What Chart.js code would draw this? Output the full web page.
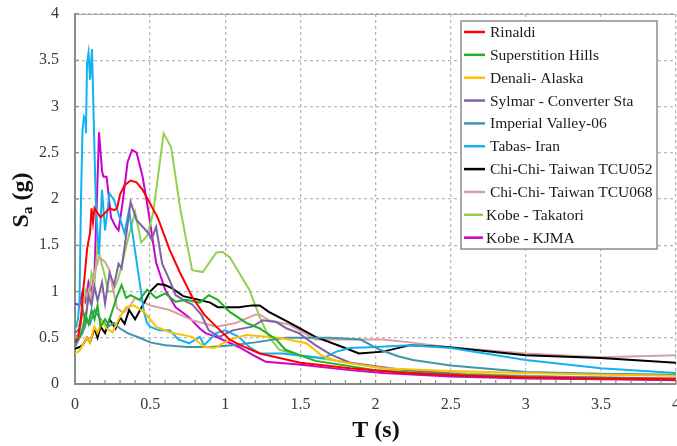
<!DOCTYPE html>
<html><head><meta charset="utf-8">
<script src="https://cdn.jsdelivr.net/npm/chart.js@4.4.1/dist/chart.umd.min.js"></script>
<style>html,body{margin:0;padding:0;background:#fff;overflow:hidden}canvas{display:block}</style>
</head><body>
<canvas id="c" width="677" height="446"></canvas>
<script>
// ---------- data ----------
const seriesNames = ["Rinaldi","Superstition Hills","Denali- Alaska","Sylmar - Converter Sta","Imperial Valley-06","Tabas- Iran","Chi-Chi- Taiwan TCU052","Chi-Chi- Taiwan TCU068","Kobe - Takatori","Kobe - KJMA"];

const rinaldiT  = [0,.02,.04,.05,.06,.07,.08,.09,.1,.11,.12,.13,.15,.17,.2,.23,.26,.28,.3,.33,.37,.41,.45,.5,.55,.63,.7,.78,.86,.94,1.03,1.1,1.23,1.5,1.83,2.2,2.6,3,3.5,4];
const rinaldiSa = [.45,.5,.7,.94,1.1,1.27,1.45,1.55,1.63,1.9,1.75,1.9,1.85,1.8,1.85,1.9,1.88,1.9,2.05,2.15,2.2,2.18,2.1,1.95,1.8,1.45,1.2,.94,.75,.62,.48,.42,.33,.23,.17,.12,.09,.07,.06,.05];

const superT  = [0,.03,.05,.07,.09,.11,.13,.15,.17,.2,.22,.25,.28,.31,.34,.37,.43,.48,.54,.6,.67,.74,.83,.89,.95,1.03,1.14,1.23,1.34,1.4,1.6,2,2.5,3,3.5,4];
const superSa = [.45,.5,.6,.75,.65,.8,.7,.85,.62,.7,.65,.8,.95,1.07,.93,.96,.91,1.02,.93,.98,.89,.91,.88,.96,.91,.78,.66,.6,.48,.37,.25,.15,.1,.07,.06,.05];

const denaliT  = [0,.03,.05,.08,.1,.13,.15,.18,.21,.25,.29,.34,.39,.46,.54,.63,.78,.86,.93,1.03,1.14,1.36,1.54,1.64,1.76,2.05,2.5,3,3.5,4];
const denaliSa = [.33,.36,.42,.5,.45,.62,.55,.68,.6,.56,.7,.83,.85,.78,.62,.56,.51,.4,.39,.48,.53,.5,.44,.31,.24,.17,.14,.12,.1,.09];

const sylmarT  = [0,.03,.05,.07,.09,.11,.13,.15,.18,.2,.23,.26,.29,.31,.34,.37,.41,.45,.49,.51,.54,.58,.63,.67,.74,.78,.84,.89,.96,1.05,1.18,1.25,1.34,1.41,1.49,1.6,1.7,1.83,2.05,2.2,2.6,3,3.5,4];
const sylmarSa = [.55,.6,.8,.7,.95,.85,1.05,.9,1.1,.87,1.2,1.07,1.3,1.25,1.6,1.97,1.77,1.7,1.63,1.56,1.7,1.3,1.12,.96,.89,.86,.75,.58,.51,.58,.62,.69,.67,.6,.55,.42,.32,.23,.18,.15,.1,.08,.07,.06];

const imperialT  = [0,.03,.05,.08,.1,.13,.15,.18,.22,.26,.3,.35,.43,.5,.6,.75,.9,1.05,1.2,1.4,1.7,1.9,2.03,2.15,2.25,2.5,3,3.5,4];
const imperialSa = [.4,.5,.55,.7,.65,.8,.75,.68,.62,.66,.6,.55,.5,.45,.42,.4,.4,.42,.45,.5,.5,.48,.37,.3,.26,.2,.13,.11,.1];

const tabasT  = [0,.02,.03,.04,.05,.06,.07,.073,.08,.09,.1,.113,.13,.14,.16,.18,.2,.23,.26,.33,.36,.46,.48,.5,.56,.63,.69,.76,.83,.86,.94,1,1.09,1.16,1.23,1.38,1.65,1.74,1.83,2,2.23,2.5,3,3.5,4];
const tabasSa = [.6,.7,.9,2.0,2.75,2.89,2.85,2.71,3.47,3.58,3.29,3.62,2.5,1.88,1.4,2.1,1.66,2.06,1.99,1.63,1.88,.77,.66,.62,.58,.58,.48,.44,.51,.42,.55,.58,.51,.4,.33,.33,.28,.35,.39,.4,.42,.39,.26,.17,.12];

const tcu052T  = [0,.03,.05,.08,.1,.13,.15,.17,.2,.23,.27,.3,.33,.36,.4,.45,.5,.55,.6,.65,.72,.8,.9,.95,1.09,1.18,1.23,1.29,1.43,1.6,1.78,1.89,2.05,2.23,2.47,3,3.5,4];
const tcu052Sa = [.38,.4,.42,.5,.45,.6,.5,.62,.55,.7,.6,.72,.65,.8,.7,.85,1.0,1.08,1.07,1.03,.95,.92,.88,.83,.83,.85,.85,.78,.66,.51,.4,.33,.35,.42,.4,.31,.28,.23];

const tcu068T  = [0,.03,.05,.07,.09,.11,.13,.16,.2,.23,.25,.28,.32,.36,.4,.45,.5,.63,.78,.94,1.07,1.2,1.23,1.29,1.43,1.6,1.71,2.05,2.23,2.47,3,3.5,4];
const tcu068Sa = [.5,.55,.8,.65,1.0,.9,1.2,1.37,1.32,1.23,1.05,.82,.77,.83,.93,.89,.85,.8,.69,.62,.66,.75,.75,.69,.64,.48,.48,.48,.45,.4,.33,.29,.31];

const takatoriT  = [0,.03,.05,.07,.09,.11,.13,.15,.17,.2,.22,.25,.28,.31,.35,.4,.44,.48,.52,.59,.64,.7,.74,.78,.85,.94,.98,1.03,1.16,1.23,1.29,1.36,1.49,1.71,2.05,2.5,3,3.5,4];
const takatoriSa = [.6,.65,.8,1.0,.9,1.2,1.1,1.5,1.35,1.16,1.0,1.0,1.1,1.27,1.55,1.86,1.53,1.6,1.85,2.71,2.56,1.9,1.56,1.23,1.21,1.42,1.43,1.37,1.02,.72,.51,.37,.31,.26,.17,.12,.09,.07,.06];

const kjmaT  = [0,.03,.05,.07,.09,.11,.13,.16,.18,.19,.21,.22,.24,.27,.29,.32,.35,.38,.41,.45,.49,.54,.6,.67,.76,.83,.87,.94,1.09,1.2,1.27,1.49,1.83,2.05,2.5,3,3.5,4];
const kjmaSa = [.87,.85,1.0,.9,1.1,1.0,1.2,2.72,2.3,2.24,2.24,2.1,1.8,1.7,1.66,2.0,2.4,2.53,2.5,2.24,1.85,1.31,1.02,.83,.72,.6,.55,.51,.4,.3,.24,.21,.15,.12,.08,.06,.05,.04];

const xTickValues = [0,0.5,1,1.5,2,2.5,3,3.5,4];
const xTickLabels = ["0","0.5","1","1.5","2","2.5","3","3.5","4"];
const yTickValues = [0,0.5,1,1.5,2,2.5,3,3.5,4];
const yTickLabels = ["0","0.5","1","1.5","2","2.5","3","3.5","4"];

// ---------- style ----------
const seriesColors = ["#FF0000","#22B022","#FFC000","#7F62A3","#3F95AE","#12B2F0","#000000","#D8A0A0","#92D050","#CC00CC"];
const SERIF = "'Liberation Serif','Times New Roman',serif";

const pairs = [[rinaldiT,rinaldiSa],[superT,superSa],[denaliT,denaliSa],[sylmarT,sylmarSa],[imperialT,imperialSa],[tabasT,tabasSa],[tcu052T,tcu052Sa],[tcu068T,tcu068Sa],[takatoriT,takatoriSa],[kjmaT,kjmaSa]];
const datasets = seriesNames.map((n,i)=>({
  label:n,
  data: pairs[i][0].map((t,k)=>({x:t,y:pairs[i][1][k]})),
  borderColor: seriesColors[i], backgroundColor: seriesColors[i],
  borderWidth: 2, pointRadius:0, tension:0, fill:false
}));

const extras = {
  id:'extras',
  afterDraw(chart){
    const {ctx, chartArea:a, scales:{x,y}} = chart;
    ctx.save();
    ctx.strokeStyle='#a8a8a8'; ctx.lineWidth=1;
    ctx.beginPath(); ctx.moveTo(a.left,a.top+0.5); ctx.lineTo(a.right,a.top+0.5); ctx.stroke();
    ctx.strokeStyle='#8a8a8a'; ctx.lineWidth=1.2;
    for(let k=0;k<=40;k++){
      const px = x.getPixelForValue(k/10);
      ctx.beginPath(); ctx.moveTo(px,a.bottom); ctx.lineTo(px,a.bottom-4); ctx.stroke();
    }
    for(const v of yTickValues){
      const py = y.getPixelForValue(v);
      ctx.beginPath(); ctx.moveTo(a.left,py); ctx.lineTo(a.left+4,py); ctx.stroke();
    }
    ctx.fillStyle='#111';
    ctx.font = "bold 24px "+SERIF; ctx.textAlign='center'; ctx.textBaseline='middle';
    ctx.fillText('T (s)', 376, 431);
    ctx.save();
    ctx.translate(22, 200); ctx.rotate(-Math.PI/2);
    ctx.textAlign='left';
    const f1="bold 24px "+SERIF, f2="bold 15px "+SERIF;
    ctx.font=f1; const wS=ctx.measureText('S').width;
    ctx.font=f2; const wa=ctx.measureText('a').width;
    ctx.font=f1; const wg=ctx.measureText(' (g)').width;
    let sx = -(wS+wa+wg)/2;
    ctx.font=f1; ctx.fillText('S', sx, 0); sx+=wS;
    ctx.font=f2; ctx.fillText('a', sx, 6); sx+=wa;
    ctx.font=f1; ctx.fillText(' (g)', sx, 0);
    ctx.restore();
    const bx=461, by=21, bw=196, bh=228;
    ctx.fillStyle='#fff'; ctx.fillRect(bx,by,bw,bh);
    ctx.strokeStyle='#8c8c8c'; ctx.lineWidth=1.5; ctx.strokeRect(bx,by,bw,bh);
    ctx.font = "15.5px "+SERIF; ctx.textAlign='left'; ctx.textBaseline='middle';
    chart.data.datasets.forEach((ds,i)=>{
      const yy = 32 + i*22.85;
      const last = i>=8;
      ctx.strokeStyle = ds.borderColor; ctx.lineWidth=2.5;
      ctx.beginPath(); ctx.moveTo(464,yy); ctx.lineTo(last?483:485,yy); ctx.stroke();
      ctx.fillStyle='#1a1a1a';
      ctx.fillText(ds.label, last?486:490, yy+1);
    });
    ctx.restore();
  }
};

new Chart(document.getElementById('c'), {
  type:'line',
  data:{datasets},
  plugins:[extras],
  options:{
    responsive:false, animation:false, devicePixelRatio:1,
    layout:{padding:{top:14,right:1,left:0,bottom:0}},
    plugins:{legend:{display:false}, tooltip:{enabled:false}},
    scales:{
      x:{type:'linear', min:0, max:4,
        afterFit(s){ s.height = 62; s.paddingLeft = 0; s.paddingRight = 0; },
        afterBuildTicks(s){ s.ticks = xTickValues.map(v=>({value:v})); },
        grid:{color:'#b9b9b9', lineWidth:1.3, drawTicks:false},
        border:{display:true, color:'#8a8a8a', width:2, dash:[3,3]},
        ticks:{padding:11, color:'#3a3a3a', font:{family:SERIF, size:16},
          callback:(v,i)=> xTickLabels[xTickValues.indexOf(v)] }
      },
      y:{type:'linear', min:0, max:4,
        afterFit(s){ s.width = 75; s.paddingTop = 0; s.paddingBottom = 0; },
        afterBuildTicks(s){ s.ticks = yTickValues.map(v=>({value:v})); },
        grid:{color:'#b9b9b9', lineWidth:1.3, drawTicks:false},
        border:{display:true, color:'#8a8a8a', width:2, dash:[3,3]},
        ticks:{padding:16, color:'#3a3a3a', font:{family:SERIF, size:16},
          callback:(v,i)=> yTickLabels[yTickValues.indexOf(v)] }
      }
    }
  }
});
</script>
</body></html>
